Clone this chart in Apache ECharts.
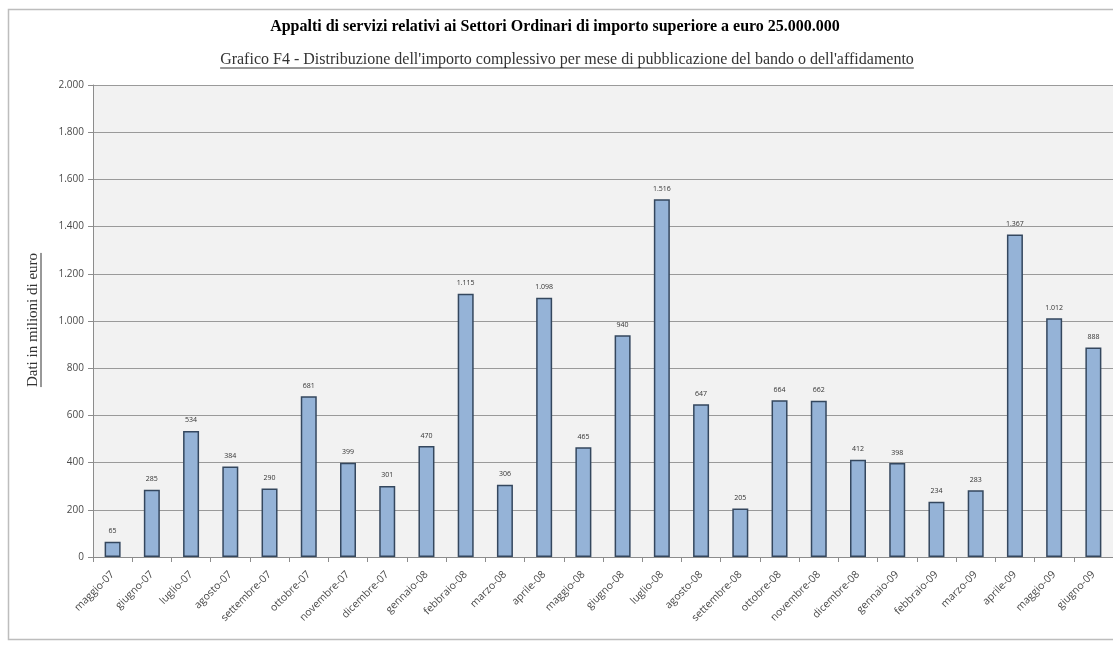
<!DOCTYPE html>
<html><head><meta charset="utf-8">
<script src="https://cdn.jsdelivr.net/npm/echarts@6/dist/echarts.min.js"></script>
<style>html,body{margin:0;padding:0;background:#fff}#c{width:1113px;height:646px}</style>
</head><body><div id="c"></div>
<script>
const categories = ["maggio-07","giugno-07","luglio-07","agosto-07","settembre-07","ottobre-07","novembre-07","dicembre-07","gennaio-08","febbraio-08","marzo-08","aprile-08","maggio-08","giugno-08","luglio-08","agosto-08","settembre-08","ottobre-08","novembre-08","dicembre-08","gennaio-09","febbraio-09","marzo-09","aprile-09","maggio-09","giugno-09"];
const importi = [65,285,534,384,290,681,399,301,470,1115,306,1098,465,940,1516,647,205,664,662,412,398,234,283,1367,1012,888];
const yTicks = [0,200,400,600,800,1000,1200,1400,1600,1800,2000];
const titleText = "Appalti di servizi relativi ai Settori Ordinari di importo superiore a euro 25.000.000";
const subtitleText = "Grafico F4 - Distribuzione dell'importo complessivo per mese di pubblicazione del bando o dell'affidamento";
const yName = "Dati in milioni di euro";

function fmt(v){ return String(v).replace(/\B(?=(\d{3})+(?!\d))/g, "."); }
const ctx = document.createElement('canvas').getContext('2d');
function tw(text, font){ ctx.font = font; return ctx.measureText(text).width; }

const serif = '"Liberation Serif", "DejaVu Serif", serif';
const sans = '"Open Sans", "Liberation Sans", sans-serif';
const titleFont = 'bold 16px ' + serif;
const subFont = '16px ' + serif;
const yFont = '15px ' + serif;
const subW = tw(subtitleText, subFont);
const yW = tw(yName, yFont);
const subCx = 567, subY = 60;
const yCx = 33, yCy = 320;

const chart = echarts.init(document.getElementById('c'), null, {renderer:'canvas'});
chart.setOption({
  backgroundColor: '#ffffff',
  animation: false,
  grid: {left: 93, right: 0, top: 85, bottom: 89, show: true, backgroundColor: '#f2f2f2', borderWidth: 0},
  xAxis: {
    type: 'category', data: categories,
    axisLine: {lineStyle: {color: '#8c8c8c', width: 1}},
    axisTick: {show: true, alignWithLabel: false, length: 5, lineStyle: {color: '#8c8c8c'}},
    axisLabel: {rotate: 45, fontSize: 10.5, color: '#4a4a4a', fontFamily: sans, margin: 16, interval: 0}
  },
  yAxis: {
    type: 'value', min: 0, max: 2000, interval: 200,
    axisLine: {show: true, lineStyle: {color: '#8c8c8c', width: 1}},
    axisTick: {show: true, length: 5, lineStyle: {color: '#8c8c8c'}},
    splitLine: {lineStyle: {color: '#9a9a9a', width: 1}},
    axisLabel: {fontSize: 10, color: '#4a4a4a', fontFamily: sans, margin: 9, formatter: v => fmt(v)}
  },
  series: [{
    type: 'bar', data: importi, barWidth: 16,
    itemStyle: {color: '#95b3d7', borderColor: '#34475e', borderWidth: 1.5},
    label: {show: true, position: 'top', distance: 7, fontSize: 7, color: '#333', fontFamily: sans, formatter: p => fmt(p.value)}
  }],
  graphic: [
    {type:'rect', left: 6, top: 7, shape:{width: 1130, height: 630}, style:{fill:'none', stroke:'#bdbdbd', lineWidth: 1.5}, z: -1},
    {type:'text', x: 555, y: 27, style:{text: titleText, font: titleFont, fill:'#000', textAlign:'center', textVerticalAlign:'middle'}},
    {type:'text', x: subCx, y: subY, style:{text: subtitleText, font: subFont, fill:'#333', textAlign:'center', textVerticalAlign:'middle'}},
    {type:'line', shape:{x1: subCx - subW/2, y1: subY + 8, x2: subCx + subW/2, y2: subY + 8}, style:{stroke:'#333', lineWidth: 1}},
    {type:'text', x: yCx, y: yCy, rotation: Math.PI/2, style:{text: yName, font: yFont, fill:'#333', textAlign:'center', textVerticalAlign:'middle'}},
    {type:'line', shape:{x1: yCx + 8, y1: yCy - yW/2, x2: yCx + 8, y2: yCy + yW/2}, style:{stroke:'#333', lineWidth: 1}}
  ]
});
</script></body></html>
